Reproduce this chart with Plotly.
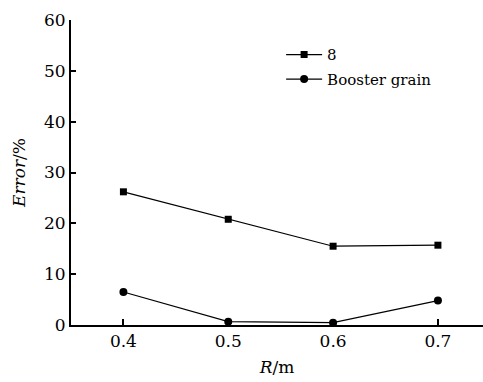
import plotly.graph_objects as go

R = [0.4, 0.5, 0.6, 0.7]
err_8 = [26.2, 20.8, 15.5, 15.7]
err_booster = [6.5, 0.65, 0.45, 4.8]
series_names = ["8", "Booster grain"]
y_ticks = [0, 10, 20, 30, 40, 50, 60]
x_ticks = [0.4, 0.5, 0.6, 0.7]

font_family = "DejaVu Serif"

fig = go.Figure()
fig.add_trace(go.Scatter(x=R, y=err_8, mode="lines+markers", name=series_names[0],
                         legendgroup="a",
                         line=dict(color="black", width=1.2),
                         marker=dict(symbol="square", size=7, color="black")))
fig.add_trace(go.Scatter(x=R, y=err_booster, mode="lines+markers", name=series_names[1],
                         legendgroup="b",
                         line=dict(color="black", width=1.2),
                         marker=dict(symbol="circle", size=8, color="black")))

fig.update_layout(
    width=483, height=382,
    margin=dict(l=71, r=0, t=20, b=57),
    plot_bgcolor="white", paper_bgcolor="white",
    font=dict(family=font_family, color="black", size=17),
    showlegend=True,
    legend=dict(x=0.51, y=0.94, xanchor="left", yanchor="top",
                font=dict(size=15, family=font_family),
                bgcolor="rgba(0,0,0,0)", tracegroupgap=2, itemwidth=36),
    xaxis=dict(range=[0.35, 0.743], tickvals=x_ticks, ticktext=[str(v) for v in x_ticks],
               showline=True, linecolor="black", linewidth=2,
               ticks="inside", ticklen=6, tickwidth=1.5, tickcolor="black",
               showgrid=False, zeroline=False,
               title=dict(text="<i>R</i>/m", font=dict(size=17), standoff=11)),
    yaxis=dict(range=[0, 60], tickvals=y_ticks,
               showline=True, linecolor="black", linewidth=2,
               ticks="inside", ticklen=5, tickwidth=1.5, tickcolor="black",
               showgrid=False, zeroline=False,
               title=dict(text="<i>Error</i>/%", font=dict(size=17), standoff=14)),
)

fig.write_html("out.html")
